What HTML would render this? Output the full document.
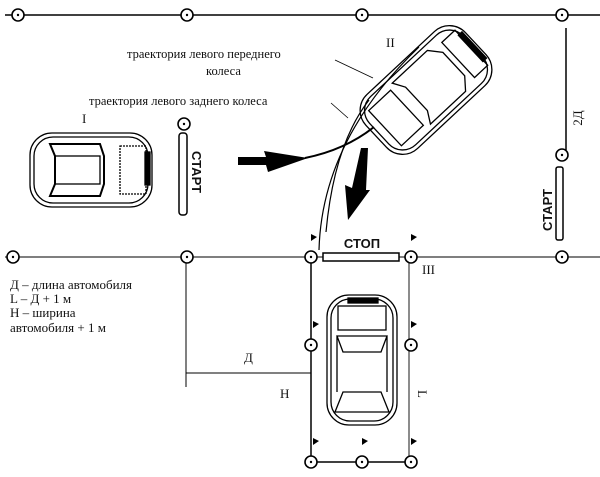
<!DOCTYPE html>
<html><head><meta charset="utf-8"><style>
html,body{margin:0;padding:0;background:#fff;width:600px;height:477px;overflow:hidden}
svg{display:block}
text{font-family:"Liberation Serif","DejaVu Serif",serif;fill:#111}
.s{font-family:"Liberation Sans",sans-serif;font-weight:bold}
</style></head><body>
<svg width="600" height="477" viewBox="0 0 600 477" xmlns="http://www.w3.org/2000/svg">
<defs>
<g id="c"><circle r="6" fill="#fff" stroke="#000" stroke-width="1.6"/><circle r="1.2" fill="#000"/></g>
<path id="f" d="M0 0 L0 -12 L6 -9 L0 -5" fill="#000"/>
</defs>
<g stroke="#000" stroke-width="1.5" fill="none">
<line x1="5" y1="15" x2="600" y2="15"/>
<line x1="566" y1="28" x2="566" y2="150"/>
<line x1="5" y1="257" x2="600" y2="257" stroke="#555"/>
<line x1="311" y1="257" x2="311" y2="462"/>
<line x1="409" y1="257" x2="409" y2="462" stroke="#666"/>
<line x1="311" y1="462" x2="409" y2="462"/>
<line x1="186" y1="257" x2="186" y2="387" stroke-width="1"/>
<line x1="186" y1="373" x2="311" y2="373" stroke-width="1"/>
<line x1="335" y1="60" x2="373" y2="78" stroke-width="0.8"/>
<line x1="331" y1="103" x2="348" y2="118" stroke-width="0.8"/>
<path d="M319 250 Q322 140 419 47" stroke-width="1.2"/>
<path d="M326 232 Q334 145 369 100" stroke-width="1.2"/>
<path d="M305 158 Q345 150 374 127" stroke-width="2"/>
</g>
<rect x="179" y="133" width="8" height="82" rx="3" fill="#fff" stroke="#000" stroke-width="1.5"/>
<rect x="556" y="167" width="7" height="73" rx="2" fill="#fff" stroke="#000" stroke-width="1.5"/>
<rect x="323" y="253" width="76" height="8" fill="#fff" stroke="#000" stroke-width="1.5"/>
<text class="s" x="362" y="248" font-size="13" text-anchor="middle">СТОП</text>
<text class="s" font-size="13" transform="translate(192,172) rotate(90)" text-anchor="middle">СТАРТ</text>
<text class="s" font-size="13" transform="translate(552,210) rotate(-90)" text-anchor="middle">СТАРТ</text>
<use href="#c" x="18" y="15"/><use href="#c" x="187" y="15"/><use href="#c" x="362" y="15"/><use href="#c" x="562" y="15"/>
<use href="#c" x="562" y="155"/><use href="#c" x="184" y="124"/>
<use href="#c" x="13" y="257"/><use href="#c" x="187" y="257"/><use href="#c" x="311" y="257"/><use href="#c" x="411" y="257"/><use href="#c" x="562" y="257"/>
<use href="#c" x="311" y="345"/><use href="#c" x="411" y="345"/>
<use href="#c" x="311" y="462"/><use href="#c" x="362" y="462"/><use href="#c" x="411" y="462"/>
<use href="#f" x="311" y="246"/><use href="#f" x="411" y="246"/><use href="#f" x="313" y="333"/><use href="#f" x="411" y="333"/><use href="#f" x="313" y="450"/><use href="#f" x="362" y="450"/><use href="#f" x="411" y="450"/>
<path d="M238 157 L266 157 L264 151 L308 158 L268 172 L266 165 L238 165 Z" fill="#000"/>
<path d="M361 148 L368 148 L366 190 L370 190 L348 220 L345 185 L352 188 Z" fill="#000"/>
<g fill="none" stroke="#000" stroke-width="1.3">
<rect x="30" y="133" width="122" height="74" rx="22"/>
<rect x="34" y="137" width="114" height="66" rx="19"/>
<path d="M50 144 L100 144 L104 156 L104 184 L100 196 L50 196 L55 184 L55 156 Z" stroke-width="2"/>
<rect x="55" y="156" width="45" height="28"/>
<rect x="120" y="146" width="26" height="48" stroke-dasharray="2 1"/>
<rect x="145" y="152" width="5" height="33" fill="#000"/>
<rect x="327" y="295" width="70" height="130" rx="22"/>
<rect x="331" y="299" width="62" height="122" rx="19"/>
<rect x="338" y="306" width="48" height="24"/>
<rect x="348" y="298" width="30" height="5" fill="#000"/>
<path d="M337 336 L387 336 L381 352 L343 352 Z M337 336 L337 392 M387 336 L387 392 M343 392 L381 392 L389 412 L335 412 Z"/>
</g>
<g transform="translate(426,90) rotate(-43)" fill="none" stroke="#000" stroke-width="1.3">
<rect x="-68" y="-37" width="136" height="74" rx="22"/>
<rect x="-64" y="-33" width="128" height="66" rx="19"/>
<rect x="-56" y="-24" width="30" height="48"/>
<path d="M-20 -28 L28 -28 L38 -16 L38 16 L28 28 L-20 28 L-13 16 L-13 -16 Z"/>
<rect x="44" y="-24" width="18" height="48"/>
<rect x="61" y="-18" width="5" height="36" fill="#000"/>
</g>
<text x="82" y="123" font-size="13">I</text>
<text x="386" y="47" font-size="13">II</text>
<text x="422" y="274" font-size="13">III</text>
<text x="582" y="118" font-size="13" transform="rotate(-90 582 118)" text-anchor="middle">2Д</text>
<text x="127" y="58" font-size="12.5">траектория левого переднего</text>
<text x="206" y="75" font-size="12.5">колеса</text>
<text x="89" y="105" font-size="12.5">траектория левого заднего колеса</text>
<text x="244" y="362" font-size="13">Д</text>
<text x="280" y="398" font-size="13">H</text>
<text x="418" y="394" font-size="13" transform="rotate(90 418 394)" text-anchor="middle">L</text>
<text x="10" y="289" font-size="13">Д – длина автомобиля</text>
<text x="10" y="303" font-size="13">L – Д + 1 м</text>
<text x="10" y="317" font-size="13">H – ширина</text>
<text x="10" y="332" font-size="13">автомобиля + 1 м</text>
</svg>
</body></html>
